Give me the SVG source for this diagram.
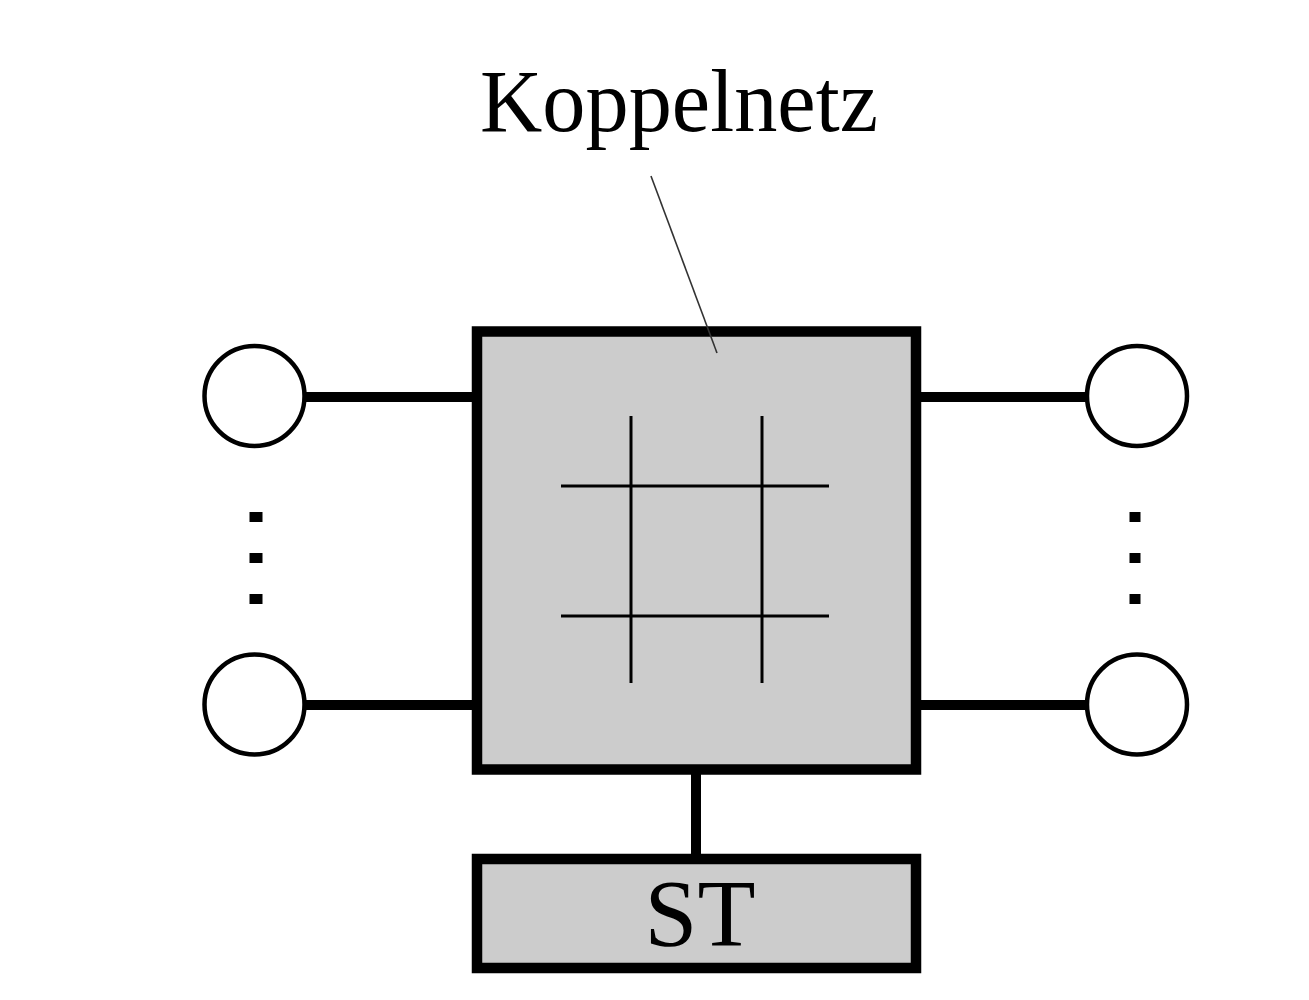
<svg xmlns="http://www.w3.org/2000/svg" width="1309" height="1000" viewBox="0 0 1309 1000">
<style>
.box{fill:#cccccc;stroke:#000;stroke-width:10.5}
.port{fill:#fff;stroke:#000;stroke-width:4.5}
.wire{stroke:#000;stroke-width:10;fill:none}
.grid{stroke:#000;stroke-width:3;fill:none}
.dot{fill:#000}
.lbl{font-family:"Liberation Serif","Times New Roman",serif;fill:#000}
</style>
<rect width="1309" height="1000" fill="#fff"/>
<g id="connectors">
<line class="wire" x1="300" y1="397" x2="477" y2="397"/>
<line class="wire" x1="300" y1="705" x2="477" y2="705"/>
<line class="wire" x1="916" y1="397" x2="1087" y2="397"/>
<line class="wire" x1="916" y1="705" x2="1087" y2="705"/>
<line class="wire" x1="696" y1="770" x2="696" y2="859"/>
</g>
<g id="koppelnetz">
<rect class="box" x="477" y="331.5" width="439" height="438"/>
<line class="grid" x1="631" y1="416" x2="631" y2="683"/>
<line class="grid" x1="762" y1="416" x2="762" y2="683"/>
<line class="grid" x1="561" y1="486" x2="829" y2="486"/>
<line class="grid" x1="561" y1="616" x2="829" y2="616"/>
</g>
<g id="label-koppelnetz">
<text class="lbl" x="480" y="131" font-size="89" textLength="398" lengthAdjust="spacingAndGlyphs">Koppelnetz</text>
<line x1="651" y1="176" x2="717" y2="353" stroke="#333" stroke-width="1.6"/>
</g>
<g id="st">
<rect class="box" x="477" y="859" width="439" height="109"/>
<text class="lbl" x="700" y="946" font-size="95" text-anchor="middle">ST</text>
</g>
<g id="port-left-top"><circle class="port" cx="254.5" cy="396" r="50"/></g>
<g id="port-left-bottom"><circle class="port" cx="254.5" cy="704.5" r="50"/></g>
<g id="port-right-top"><circle class="port" cx="1137" cy="396" r="50"/></g>
<g id="port-right-bottom"><circle class="port" cx="1137" cy="704.5" r="50"/></g>
<g id="dots-left">
<rect class="dot" x="249.5" y="512" width="13" height="10"/>
<rect class="dot" x="249.5" y="553" width="13" height="10"/>
<rect class="dot" x="249.5" y="594" width="13" height="10"/>
</g>
<g id="dots-right">
<rect class="dot" x="1129.5" y="512" width="11" height="10"/>
<rect class="dot" x="1129.5" y="553" width="11" height="10"/>
<rect class="dot" x="1129.5" y="594" width="11" height="10"/>
</g>
</svg>
